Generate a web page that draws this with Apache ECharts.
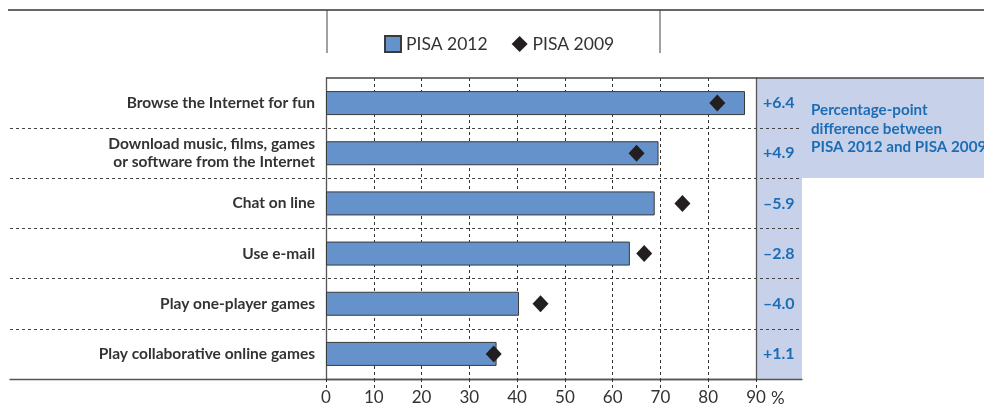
<!DOCTYPE html>
<html>
<head>
<meta charset="utf-8">
<script src="https://cdn.jsdelivr.net/npm/echarts@6/dist/echarts.min.js"></script>
<style>
html,body{margin:0;padding:0;background:#fff;}
#chart{width:984px;height:410px;}
</style>
</head>
<body>
<div id="chart"></div>
<script>
var categories = [
  'Browse the Internet for fun',
  'Download music, films, games\nor software from the Internet',
  'Chat on line',
  'Use e-mail',
  'Play one-player games',
  'Play collaborative online games'
];
var pisa2012 = [87.7, 69.6, 68.8, 63.6, 40.4, 35.7];
var pisa2009 = [81.9, 65.0, 74.6, 66.6, 44.9, 35.1];
var diffLabels = ['+6.4', '+4.9', '\u20135.9', '\u20132.8', '\u20134.0', '+1.1'];
var xTicks = [0, 10, 20, 30, 40, 50, 60, 70, 80, 90];

var FONT = 'Lato, "Open Sans", sans-serif';
var chart = echarts.init(document.getElementById('chart'));
var option = {
  backgroundColor: '#fff',
  animation: false,
  textStyle: { fontFamily: FONT },
  legend: {
    left: 379, top: 30,
    itemWidth: 16, itemHeight: 16, itemGap: 24,
    textStyle: { fontSize: 17.5, color: '#333', fontFamily: FONT },
    data: [
      { name: 'PISA 2012', icon: 'rect' },
      { name: 'PISA 2009', icon: 'diamond' }
    ]
  },
  grid: [
    { left: 326, width: 430, top: 78, height: 301, containLabel: false },
    { left: 10, width: 792, top: 78, height: 301, containLabel: false }
  ],
  xAxis: [
    {
      gridIndex: 0, type: 'value', min: 0, max: 90, interval: 10,
      axisLine: { show: true, lineStyle: { color: '#555', width: 1.3 } },
      axisTick: { show: true, length: 9, lineStyle: { color: '#333', type: [3, 3] } },
      axisLabel: { fontSize: 17, color: '#333', margin: 10,
        formatter: function (v) { return xTicks.indexOf(v) >= 0 ? String(v) : ''; } },
      splitLine: { show: true, lineStyle: { color: '#333', type: [3, 3], width: 1 } }
    },
    {
      gridIndex: 1, type: 'value', min: 0, max: 1,
      axisLine: { show: true, lineStyle: { color: '#555', width: 1.3 } },
      axisTick: { show: false }, axisLabel: { show: false }, splitLine: { show: false }
    }
  ],
  yAxis: [
    {
      gridIndex: 0, type: 'category', inverse: true, data: categories,
      axisLine: { show: true, lineStyle: { color: '#555', width: 1.3 } },
      axisTick: { show: false },
      axisLabel: { fontSize: 15.5, fontWeight: 'bold', color: '#333', margin: 11, lineHeight: 18, align: 'right' }
    },
    {
      gridIndex: 0, type: 'category', inverse: true, position: 'right', data: diffLabels,
      axisLine: { show: true, lineStyle: { color: '#555', width: 1.3 } },
      axisTick: { show: false },
      axisLabel: { fontSize: 16, fontWeight: 'bold', color: '#1d6db5', margin: 7, align: 'left' }
    },
    {
      gridIndex: 1, type: 'category', inverse: true, data: categories,
      axisLine: { show: false }, axisTick: { show: false }, axisLabel: { show: false },
      splitLine: { show: true, lineStyle: { type: [3, 3], width: 1,
        color: ['rgba(0,0,0,0)', '#444', '#444', '#444', '#444', '#444', 'rgba(0,0,0,0)'] } }
    }
  ],
  graphic: [
    { type: 'rect', z: -10, silent: true, shape: { x: 756, y: 78, width: 46, height: 301 }, style: { fill: '#c7d2ea' } },
    { type: 'rect', z: -10, silent: true, shape: { x: 756, y: 78, width: 228, height: 100 }, style: { fill: '#c7d2ea' } },
    { type: 'line', z: 10, silent: true, shape: { x1: 326, y1: 78, x2: 984, y2: 78 }, style: { stroke: '#444', lineWidth: 1.3 } },
    { type: 'line', silent: true, shape: { x1: 8, y1: 10, x2: 984, y2: 10 }, style: { stroke: '#333', lineWidth: 1.5 } },
    { type: 'line', silent: true, shape: { x1: 327, y1: 10, x2: 327, y2: 53 }, style: { stroke: '#444', lineWidth: 1 } },
    { type: 'line', silent: true, shape: { x1: 660, y1: 10, x2: 660, y2: 53 }, style: { stroke: '#444', lineWidth: 1 } },
    { type: 'text', silent: true, style: { x: 498, y: -2, text: '(OECD average)', font: '22px ' + FONT, fill: '#333', textAlign: 'center', textVerticalAlign: 'bottom' } },
    { type: 'text', silent: true, style: { x: 771, y: 399, text: '%', font: '17px ' + FONT, fill: '#333', textAlign: 'left', textVerticalAlign: 'middle' } },
    { type: 'text', z: 20, silent: true, style: { x: 811, y: 101, text: 'Percentage-point\ndifference between\nPISA 2012 and PISA 2009', font: 'bold 15.2px ' + FONT, fill: '#1d6db5', lineHeight: 18.5, textAlign: 'left', textVerticalAlign: 'top' } }
  ],
  series: [
    {
      name: 'PISA 2012', type: 'bar', xAxisIndex: 0, yAxisIndex: 0,
      data: pisa2012, barWidth: 24,
      itemStyle: { color: '#6592cb', borderColor: '#3a3a3a', borderWidth: 1 }
    },
    {
      name: 'PISA 2009', type: 'scatter', xAxisIndex: 0, yAxisIndex: 0,
      data: pisa2009, symbol: 'diamond', symbolSize: [16, 17], z: 5,
      itemStyle: { color: '#231f20', opacity: 1 }
    }
  ]
};
chart.setOption(option);
</script>
</body>
</html>
